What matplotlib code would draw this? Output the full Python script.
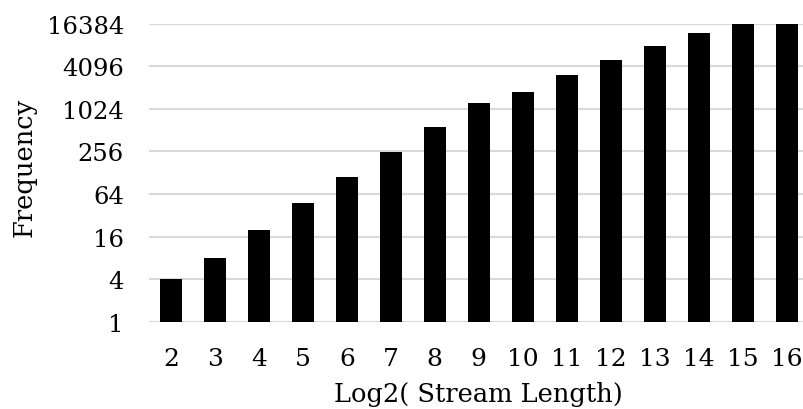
import matplotlib
matplotlib.use('agg')
import matplotlib.pyplot as plt  # noqa: E402
from matplotlib.ticker import FixedLocator, FixedFormatter  # noqa: E402

# log2 of stream length
lengths = [2, 3, 4, 5, 6, 7, 8, 9, 10, 11, 12, 13, 14, 15, 16]
# frequency (bars for 15 and 16 run past the top of the axis)
freq = [4, 8, 20, 48, 110, 250, 570, 1245, 1745, 3040, 5000, 8050, 12000, 24000, 30000]
ytick_vals = [1, 4, 16, 64, 256, 1024, 4096, 16384]
ytick_labels = ['1', '4', '16', '64', '256', '1024', '4096', '16384']

plt.rcParams['font.family'] = ['DejaVu Serif']

fig = plt.figure(figsize=(8.04, 4.10), dpi=100)
ax = fig.add_axes([0.1853, 0.213, 0.8204, 0.7268])

ax.bar(lengths, freq, width=0.5, color='black', zorder=3)
ax.set_yscale('log', base=2)
ax.set_ylim(1, 16384)
ax.set_xlim(1.5, 16.5)

ax.yaxis.set_major_locator(FixedLocator(ytick_vals))
ax.yaxis.set_major_formatter(FixedFormatter(ytick_labels))
ax.yaxis.set_minor_locator(FixedLocator([]))
ax.set_xticks(lengths)
ax.set_xticklabels([str(v) for v in lengths])

ax.grid(axis='y', color='#d9d9d9', linewidth=1.5, zorder=0)
for s in ax.spines.values():
	s.set_visible(False)
ax.tick_params(axis='y', length=0, labelsize=17.5, pad=18)
ax.tick_params(axis='x', length=0, labelsize=18, pad=18)

ax.set_xlabel('Log2( Stream Length)', fontsize=18.5, labelpad=8)
ax.set_ylabel('Frequency', fontsize=18.5)
ax.yaxis.set_label_coords(-0.17, 0.52)

plt.savefig('out.png', dpi=100)
